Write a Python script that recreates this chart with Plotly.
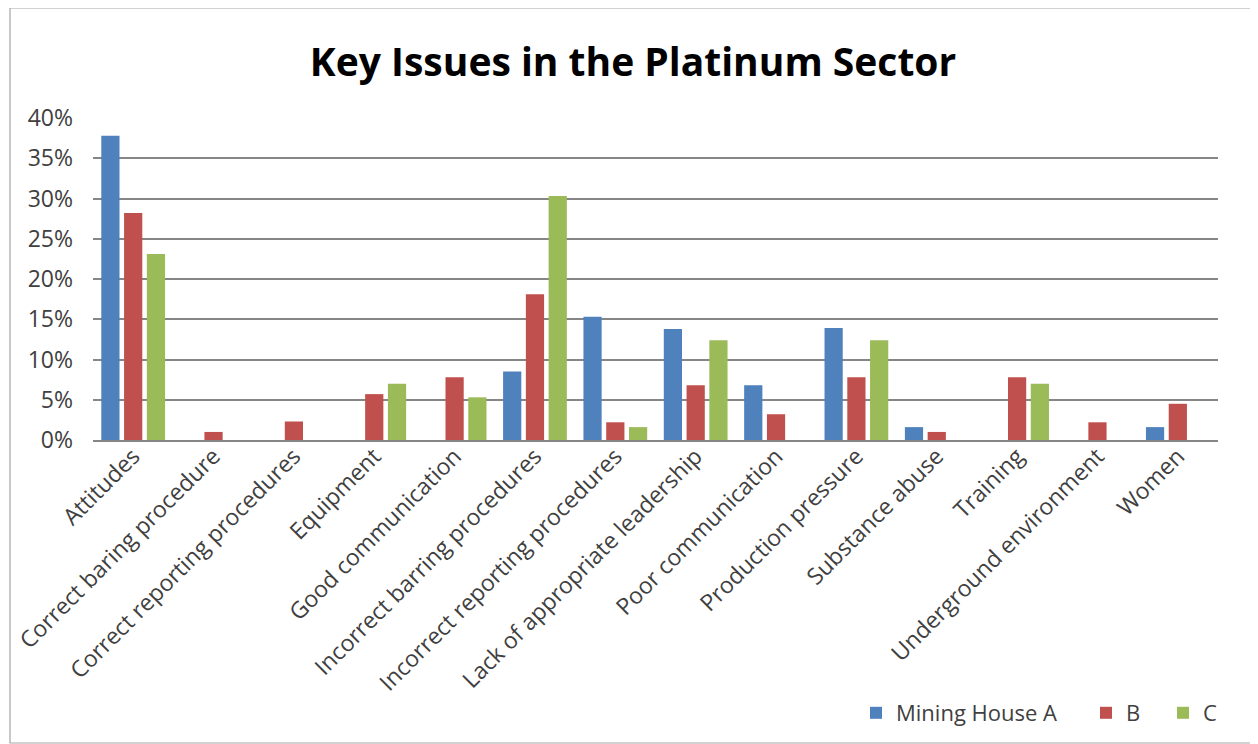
import plotly.graph_objects as go

categories = ["Attitudes", "Correct baring procedure", "Correct reporting procedures",
              "Equipment", "Good communication", "Incorrect barring procedures",
              "Incorrect reporting procedures", "Lack of appropriate leadership",
              "Poor communication", "Production pressure", "Substance abuse",
              "Training", "Underground environment", "Women"]
mining_a = [0.378, 0, 0, 0, 0, 0.085, 0.153, 0.138, 0.068, 0.139, 0.016, 0, 0, 0.016]
mining_b = [0.282, 0.010, 0.023, 0.057, 0.078, 0.181, 0.022, 0.068, 0.032, 0.078, 0.010, 0.078, 0.022, 0.045]
mining_c = [0.231, 0, 0, 0.070, 0.053, 0.303, 0.016, 0.124, 0, 0.124, 0, 0.070, 0, 0]
series_names = ["Mining House A", "B", "C"]
colors = ["#4F81BD", "#C0504D", "#9BBB59"]

FONT = "Open Sans"
OFF = 8  # page body margin

FW, FH = 1258 - OFF, 744 - OFF
L, R, T, B = 93 - OFF, 1218 - OFF, 118 - OFF, 440 - OFF
W, H = R - L, B - T
def px(x): return (x - OFF - L) / W
def py(y): return (B - (y - OFF)) / H

legend_names = ["legend", "legend2", "legend3"]
legend_x = [856, 1086, 1163]

fig = go.Figure()
for name, vals, col, lg in zip(series_names, [mining_a, mining_b, mining_c], colors, legend_names):
    fig.add_trace(go.Bar(x=categories, y=vals, name=name, legend=lg, showlegend=True,
                         marker=dict(color=col, line=dict(width=0))))

legend_common = dict(orientation="h", xanchor="left", y=py(713), yanchor="middle",
                     font=dict(family=FONT, size=22, color="#404040"), itemwidth=30,
                     bgcolor="rgba(0,0,0,0)")

fig.update_layout(
    width=FW, height=FH, showlegend=True,
    margin=dict(l=L, r=FW - R, t=T, b=FH - B, autoexpand=False),
    paper_bgcolor="white", plot_bgcolor="white",
    barmode="group", bargap=0.15, bargroupgap=0.2,
    title=dict(text="<b>Key Issues in the Platinum Sector</b>", x=0.5, xanchor="center",
               y=1 - (62 - OFF) / FH, yanchor="middle",
               font=dict(family=FONT, size=39, color="#000000")),
    font=dict(family=FONT, color="#404040"),
    xaxis=dict(tickangle=-45, tickfont=dict(size=23, color="#404040"),
               showline=True, linecolor="#868686", linewidth=1.5, ticks="",
               showgrid=False, ticklabelstandoff=-8),
    yaxis=dict(range=[0, 0.4], dtick=0.05, tickformat=".0%",
               tickfont=dict(size=23, color="#404040"),
               showgrid=True, gridcolor="#868686", gridwidth=1.5,
               zeroline=False, showline=False, ticks="", ticklabelstandoff=19),
    legend=dict(x=px(legend_x[0]), **legend_common),
    legend2=dict(x=px(legend_x[1]), **legend_common),
    legend3=dict(x=px(legend_x[2]), **legend_common),
    shapes=[dict(type="rect", xref="paper", yref="paper",
                 x0=px(10), x1=px(1256), y0=py(743), y1=py(8),
                 line=dict(color="#A6A6A6", width=1.2), fillcolor="rgba(0,0,0,0)", layer="below")],
)

fig.write_html("out.html")
